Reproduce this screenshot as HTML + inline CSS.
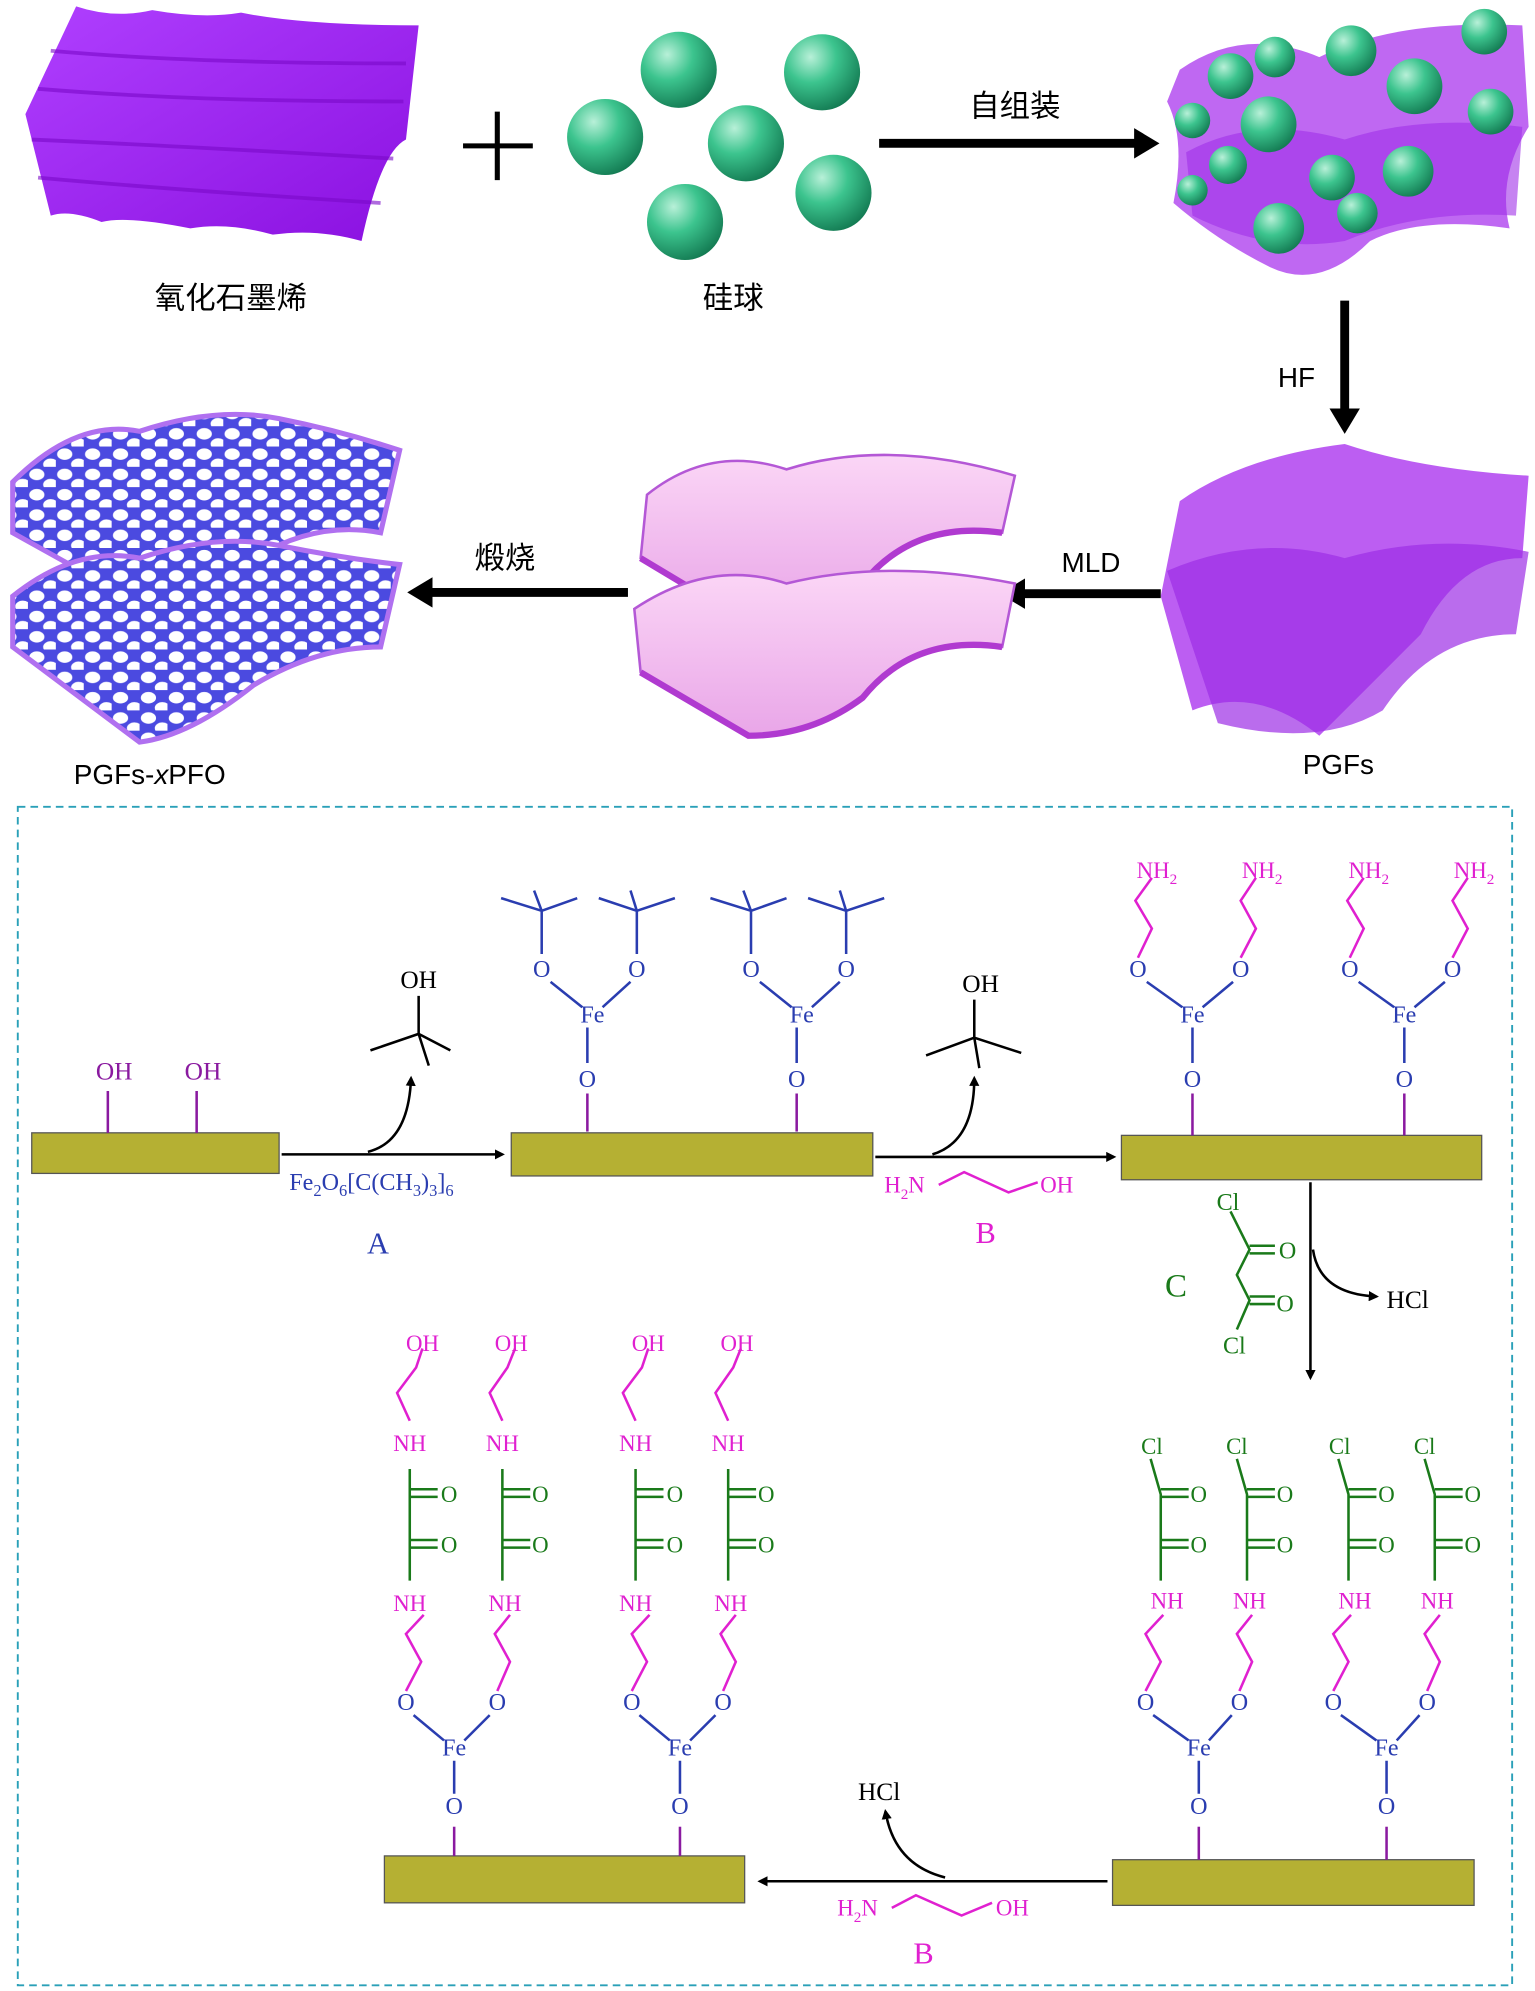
<!DOCTYPE html>
<html><head><meta charset="utf-8">
<style>
html,body{margin:0;padding:0;background:#fff;}
svg{display:block;}
.cn{font-family:"Liberation Sans","Noto Sans CJK SC",sans-serif;}
.s{font-family:"Liberation Serif","Noto Serif CJK SC",serif;}
</style></head><body>
<svg width="1535" height="1991" viewBox="0 0 1210 1569.5" xmlns="http://www.w3.org/2000/svg">
<defs>
<radialGradient id="sph" cx="0.35" cy="0.3" r="0.75">
<stop offset="0" stop-color="#b8f0d8"/><stop offset="0.45" stop-color="#3cc48e"/><stop offset="1" stop-color="#137a52"/></radialGradient>
<linearGradient id="go" x1="0" y1="0" x2="1" y2="1"><stop offset="0" stop-color="#b040ff"/><stop offset="1" stop-color="#8a10e0"/></linearGradient>
<linearGradient id="pk" x1="0" y1="0" x2="0" y2="1"><stop offset="0" stop-color="#fbd6f6"/><stop offset="1" stop-color="#e9a6e8"/></linearGradient>
<pattern id="dots" width="22" height="16" patternUnits="userSpaceOnUse"><rect width="22" height="16" fill="#4b4ae0"/><ellipse cx="7" cy="6" rx="6" ry="4.5" fill="#fff"/><ellipse cx="18" cy="14" rx="6" ry="4.5" fill="#fff"/></pattern>
<marker id="ah" markerWidth="8" markerHeight="8" refX="6" refY="4" orient="auto" markerUnits="userSpaceOnUse"><path d="M0,0 L8,4 L0,8 Z" fill="#000"/></marker>
<marker id="ahb" markerWidth="22" markerHeight="24" refX="8" refY="12" orient="auto" markerUnits="userSpaceOnUse"><path d="M0,0 L20,12 L0,24 Z" fill="#000"/></marker>
</defs>

<!-- GO sheet -->
<path d="M60,5 Q90,15 120,8 Q160,15 190,10 Q240,20 330,20 L320,110 Q300,120 285,190 Q250,180 215,185 Q180,175 150,180 Q100,170 80,175 Q55,165 40,170 L20,90 Z" fill="url(#go)"/>
<path d="M40,40 Q150,50 320,50 M30,70 Q150,80 318,80 M25,110 Q140,115 310,125 M30,140 Q140,150 300,160" stroke="#7a08c8" stroke-width="3" fill="none" opacity="0.6"/>
<text x="182" y="243" class="cn" font-size="24" text-anchor="middle">氧化石墨烯</text>
<path d="M365,115 H420 M392,88 V142" stroke="#000" stroke-width="4"/>
<circle cx="535" cy="55" r="30" fill="url(#sph)"/><circle cx="648" cy="57" r="30" fill="url(#sph)"/>
<circle cx="477" cy="108" r="30" fill="url(#sph)"/><circle cx="588" cy="113" r="30" fill="url(#sph)"/>
<circle cx="657" cy="152" r="30" fill="url(#sph)"/><circle cx="540" cy="175" r="30" fill="url(#sph)"/>
<text x="578" y="243" class="cn" font-size="24" text-anchor="middle">硅球</text>
<line x1="693" y1="113" x2="902" y2="113" stroke="#000" stroke-width="7" marker-end="url(#ahb)"/>
<text x="800" y="92" class="cn" font-size="24" text-anchor="middle">自组装</text>
<!-- composite -->
<path d="M930,55 Q980,20 1040,45 Q1100,15 1200,20 L1205,100 Q1180,140 1190,180 Q1120,170 1080,190 Q1040,230 1000,210 Q960,190 925,160 Q935,110 920,80 Z" fill="#b44df0" opacity="0.85"/>
<path d="M935,120 Q990,90 1060,110 Q1120,90 1200,100 L1195,170 Q1120,165 1060,190 Q1000,200 940,170 Z" fill="#a030e8" opacity="0.6"/>
<g>
<circle cx="970" cy="60" r="18" fill="url(#sph)"/><circle cx="1005" cy="45" r="16" fill="url(#sph)"/><circle cx="1065" cy="40" r="20" fill="url(#sph)"/><circle cx="1170" cy="25" r="18" fill="url(#sph)"/><circle cx="1115" cy="68" r="22" fill="url(#sph)"/><circle cx="1000" cy="98" r="22" fill="url(#sph)"/><circle cx="1175" cy="88" r="18" fill="url(#sph)"/><circle cx="940" cy="95" r="14" fill="url(#sph)"/><circle cx="968" cy="130" r="15" fill="url(#sph)"/><circle cx="1050" cy="140" r="18" fill="url(#sph)"/><circle cx="1110" cy="135" r="20" fill="url(#sph)"/><circle cx="1008" cy="180" r="20" fill="url(#sph)"/><circle cx="1070" cy="168" r="16" fill="url(#sph)"/><circle cx="940" cy="150" r="12" fill="url(#sph)"/>
</g>
<line x1="1060" y1="237" x2="1060" y2="330" stroke="#000" stroke-width="7" marker-end="url(#ahb)"/>
<text x="1022" y="305" class="cn" font-size="22" text-anchor="middle">HF</text>
<!-- PGFs -->
<path d="M930,395 Q980,360 1060,350 Q1120,370 1205,375 L1200,440 Q1150,440 1120,500 Q1080,540 1040,580 Q990,540 940,560 L915,470 Z" fill="#b042f0" opacity="0.85"/>
<path d="M920,450 Q990,420 1060,440 Q1130,420 1205,435 L1195,500 Q1130,500 1090,560 Q1040,590 960,570 Z" fill="#9c2ee6" opacity="0.7"/>
<text x="1055" y="610" class="cn" font-size="22" text-anchor="middle">PGFs</text>
<line x1="915" y1="468" x2="800" y2="468" stroke="#000" stroke-width="7" marker-end="url(#ahb)"/>
<text x="860" y="451" class="cn" font-size="22" text-anchor="middle">MLD</text>
<!-- pink sheets -->
<path d="M510,390 Q560,350 620,370 Q700,345 800,375 L790,420 Q720,410 680,460 Q640,480 580,485 L505,440 Z" fill="url(#pk)" stroke="#b458d6" stroke-width="2"/>
<path d="M505,440 L580,485 Q640,480 680,460 Q720,410 790,420" stroke="#b03ad0" stroke-width="5" fill="none"/>
<path d="M500,480 Q560,440 620,460 Q700,440 800,460 L790,510 Q720,500 680,550 Q640,580 590,580 L505,530 Z" fill="url(#pk)" stroke="#b458d6" stroke-width="2"/>
<path d="M505,530 L590,580 Q640,580 680,550 Q720,500 790,510" stroke="#b03ad0" stroke-width="5" fill="none"/>
<line x1="495" y1="467" x2="333" y2="467" stroke="#000" stroke-width="7" marker-end="url(#ahb)"/>
<text x="398" y="448" class="cn" font-size="24" text-anchor="middle">煅烧</text>
<!-- dotted sheets -->
<path d="M10,380 Q60,330 110,340 Q170,320 220,330 Q270,340 315,355 L300,420 Q250,410 200,440 Q150,470 100,470 L10,420 Z" fill="url(#dots)" stroke="#b070f0" stroke-width="4"/>
<path d="M10,470 Q60,430 110,440 Q170,420 220,430 Q270,440 315,445 L300,510 Q250,510 200,540 Q150,580 110,585 L10,510 Z" fill="url(#dots)" stroke="#b070f0" stroke-width="4"/>
<text x="118" y="618" class="cn" font-size="22" text-anchor="middle">PGFs-<tspan font-style="italic">x</tspan>PFO</text>

<!-- dashed box -->
<rect x="14" y="636" width="1178" height="929" fill="none" stroke="#2aa0b8" stroke-width="1.5" stroke-dasharray="6,4"/>

<!-- bars -->
<g fill="#b5b033" stroke="#555" stroke-width="1">
<rect x="25" y="893" width="195" height="32"/>
<rect x="403" y="893" width="285" height="34"/>
<rect x="884" y="895" width="284" height="35"/>
<rect x="877" y="1466" width="285" height="36"/>
<rect x="303" y="1463" width="284" height="37"/>
</g>

<!-- bar1 OH -->
<g class="s" font-size="20" fill="#8a1aa0" text-anchor="middle">
<text x="90" y="851">OH</text><text x="160" y="851">OH</text></g>
<path d="M85,860 V893 M155,860 V893" stroke="#8a1aa0" stroke-width="2"/>

<!-- arrow A -->
<line x1="222" y1="910" x2="396" y2="910" stroke="#000" stroke-width="2" marker-end="url(#ah)"/>
<path d="M290,908 Q322,900 324,850" stroke="#000" stroke-width="2" fill="none" marker-end="url(#ah)"/>
<text x="330" y="779" class="s" font-size="20" text-anchor="middle">OH</text>
<path d="M330,785 V815 M330,815 L292,828 M330,815 L355,828 M330,815 L338,840" stroke="#000" stroke-width="2"/>
<text x="228" y="938" class="s" font-size="19" fill="#2a3db0">Fe<tspan font-size="13" dy="5">2</tspan><tspan dy="-5">O</tspan><tspan font-size="13" dy="5">6</tspan><tspan dy="-5">[C(CH</tspan><tspan font-size="13" dy="5">3</tspan><tspan dy="-5">)</tspan><tspan font-size="13" dy="5">3</tspan><tspan dy="-5">]</tspan><tspan font-size="13" dy="5">6</tspan></text>
<text x="298" y="988" class="s" font-size="24" fill="#2a3db0" text-anchor="middle">A</text>

<!-- Fe tBu units on bar2 -->
<g transform="translate(467,800)">
<path d="M-4,62 V92" stroke="#8a1aa0" stroke-width="2"/>
<path d="M-4,10 V38 M-8,-6 L-33,-26 M8,-6 L30,-26" stroke="#2a3db0" stroke-width="2"/>
<g stroke="#2a3db0" stroke-width="2">
<path d="M-40,-48 V-82 M-40,-82 L-72,-92 M-40,-82 L-12,-92 M-40,-82 L-46,-98"/>
<path d="M35,-48 V-82 M35,-82 L5,-92 M35,-82 L65,-92 M35,-82 L30,-98"/>
</g>
<g class="s" font-size="19" fill="#2a3db0" text-anchor="middle">
<text x="0" y="6">Fe</text><text x="-4" y="57">O</text><text x="-40" y="-30">O</text><text x="35" y="-30">O</text></g>
</g>
<g transform="translate(632,800)">
<path d="M-4,62 V92" stroke="#8a1aa0" stroke-width="2"/>
<path d="M-4,10 V38 M-8,-6 L-33,-26 M8,-6 L30,-26" stroke="#2a3db0" stroke-width="2"/>
<g stroke="#2a3db0" stroke-width="2">
<path d="M-40,-48 V-82 M-40,-82 L-72,-92 M-40,-82 L-12,-92 M-40,-82 L-46,-98"/>
<path d="M35,-48 V-82 M35,-82 L5,-92 M35,-82 L65,-92 M35,-82 L30,-98"/>
</g>
<g class="s" font-size="19" fill="#2a3db0" text-anchor="middle">
<text x="0" y="6">Fe</text><text x="-4" y="57">O</text><text x="-40" y="-30">O</text><text x="35" y="-30">O</text></g>
</g>

<!-- arrow B -->
<line x1="690" y1="912" x2="878" y2="912" stroke="#000" stroke-width="2" marker-end="url(#ah)"/>
<path d="M735,910 Q768,900 768,850" stroke="#000" stroke-width="2" fill="none" marker-end="url(#ah)"/>
<text x="773" y="782" class="s" font-size="20" text-anchor="middle">OH</text>
<path d="M768,788 V818 M768,818 L730,832 M768,818 L805,830 M768,818 L772,842" stroke="#000" stroke-width="2"/>
<text x="697" y="940" class="s" font-size="18" fill="#e020d0">H<tspan font-size="12" dy="5">2</tspan><tspan dy="-5">N</tspan></text>
<path d="M740,934 L760,924 L795,940 L818,932" stroke="#e020d0" stroke-width="2" fill="none"/>
<text x="820" y="940" class="s" font-size="18" fill="#e020d0">OH</text>
<text x="777" y="980" class="s" font-size="24" fill="#e020d0" text-anchor="middle">B</text>

<!-- bar3 units with NH2 -->
<g transform="translate(940,800)">
<path d="M0,62 V95" stroke="#8a1aa0" stroke-width="2"/>
<path d="M0,10 V38 M-8,-6 L-36,-26 M8,-6 L32,-26" stroke="#2a3db0" stroke-width="2"/>
<path d="M-43,-45 L-32,-68 L-45,-90 L-32,-108 M38,-45 L50,-68 L38,-90 L50,-108" stroke="#e020d0" stroke-width="2" fill="none"/>
<g class="s" font-size="19" fill="#2a3db0" text-anchor="middle"><text x="0" y="6">Fe</text><text x="0" y="57">O</text><text x="-43" y="-30">O</text><text x="38" y="-30">O</text></g>
<g class="s" font-size="18" fill="#e020d0" text-anchor="middle"><text x="-28" y="-108">NH<tspan font-size="12" dy="5">2</tspan></text><text x="55" y="-108">NH<tspan font-size="12" dy="5">2</tspan></text></g>
</g>
<g transform="translate(1107,800)">
<path d="M0,62 V95" stroke="#8a1aa0" stroke-width="2"/>
<path d="M0,10 V38 M-8,-6 L-36,-26 M8,-6 L32,-26" stroke="#2a3db0" stroke-width="2"/>
<path d="M-43,-45 L-32,-68 L-45,-90 L-32,-108 M38,-45 L50,-68 L38,-90 L50,-108" stroke="#e020d0" stroke-width="2" fill="none"/>
<g class="s" font-size="19" fill="#2a3db0" text-anchor="middle"><text x="0" y="6">Fe</text><text x="0" y="57">O</text><text x="-43" y="-30">O</text><text x="38" y="-30">O</text></g>
<g class="s" font-size="18" fill="#e020d0" text-anchor="middle"><text x="-28" y="-108">NH<tspan font-size="12" dy="5">2</tspan></text><text x="55" y="-108">NH<tspan font-size="12" dy="5">2</tspan></text></g>
</g>

<!-- arrow C down -->
<line x1="1033" y1="932" x2="1033" y2="1086" stroke="#000" stroke-width="2" marker-end="url(#ah)"/>
<path d="M1035,985 Q1040,1020 1085,1022" stroke="#000" stroke-width="2" fill="none" marker-end="url(#ah)"/>
<text x="1093" y="1031" class="s" font-size="20">HCl</text>
<text x="927" y="1022" class="s" font-size="26" fill="#1a7a1a" text-anchor="middle">C</text>
<g stroke="#1a7a1a" stroke-width="2" fill="none">
<path d="M970,955 L985,985 L975,1005 L985,1025 L975,1048"/>
<path d="M985,982 H1005 M985,988 H1005 M985,1022 H1005 M985,1028 H1005"/>
</g>
<g class="s" font-size="19" fill="#1a7a1a" text-anchor="middle"><text x="968" y="954">Cl</text><text x="1015" y="992">O</text><text x="1013" y="1034">O</text><text x="973" y="1067">Cl</text></g>

<!-- bottom right units (Cl terminal) -->
<g transform="translate(945,1378)">
<path d="M0,62 V88" stroke="#8a1aa0" stroke-width="2"/>
<path d="M0,10 V36 M-8,-6 L-36,-26 M8,-6 L26,-26" stroke="#2a3db0" stroke-width="2"/>
<path d="M-42,-45 L-30,-68 L-42,-90 L-28,-105 M32,-45 L42,-68 L30,-90 L42,-105" stroke="#e020d0" stroke-width="2" fill="none"/>
<path d="M-30,-132 V-200 L-38,-228 M-30,-158 H-8 M-30,-164 H-8 M-30,-198 H-8 M-30,-204 H-8 M38,-132 V-200 L30,-228 M38,-158 H60 M38,-164 H60 M38,-198 H60 M38,-204 H60" stroke="#1a7a1a" stroke-width="2" fill="none"/>
<g class="s" font-size="19" fill="#2a3db0" text-anchor="middle"><text x="0" y="6">Fe</text><text x="0" y="52">O</text><text x="-42" y="-30">O</text><text x="32" y="-30">O</text></g>
<g class="s" font-size="18" fill="#e020d0" text-anchor="middle"><text x="-25" y="-110">NH</text><text x="40" y="-110">NH</text></g>
<g class="s" font-size="18" fill="#1a7a1a" text-anchor="middle"><text x="0" y="-154">O</text><text x="0" y="-194">O</text><text x="68" y="-154">O</text><text x="68" y="-194">O</text><text x="-37" y="-232">Cl</text><text x="30" y="-232">Cl</text></g>
</g>
<g transform="translate(1093,1378)">
<path d="M0,62 V88" stroke="#8a1aa0" stroke-width="2"/>
<path d="M0,10 V36 M-8,-6 L-36,-26 M8,-6 L26,-26" stroke="#2a3db0" stroke-width="2"/>
<path d="M-42,-45 L-30,-68 L-42,-90 L-28,-105 M32,-45 L42,-68 L30,-90 L42,-105" stroke="#e020d0" stroke-width="2" fill="none"/>
<path d="M-30,-132 V-200 L-38,-228 M-30,-158 H-8 M-30,-164 H-8 M-30,-198 H-8 M-30,-204 H-8 M38,-132 V-200 L30,-228 M38,-158 H60 M38,-164 H60 M38,-198 H60 M38,-204 H60" stroke="#1a7a1a" stroke-width="2" fill="none"/>
<g class="s" font-size="19" fill="#2a3db0" text-anchor="middle"><text x="0" y="6">Fe</text><text x="0" y="52">O</text><text x="-42" y="-30">O</text><text x="32" y="-30">O</text></g>
<g class="s" font-size="18" fill="#e020d0" text-anchor="middle"><text x="-25" y="-110">NH</text><text x="40" y="-110">NH</text></g>
<g class="s" font-size="18" fill="#1a7a1a" text-anchor="middle"><text x="0" y="-154">O</text><text x="0" y="-194">O</text><text x="68" y="-154">O</text><text x="68" y="-194">O</text><text x="-37" y="-232">Cl</text><text x="30" y="-232">Cl</text></g>
</g>

<!-- bottom arrow B -->
<line x1="873" y1="1483" x2="599" y2="1483" stroke="#000" stroke-width="2" marker-end="url(#ah)"/>
<path d="M745,1480 Q705,1470 698,1428" stroke="#000" stroke-width="2" fill="none" marker-end="url(#ah)"/>
<text x="693" y="1419" class="s" font-size="20" text-anchor="middle">HCl</text>
<text x="660" y="1510" class="s" font-size="18" fill="#e020d0">H<tspan font-size="12" dy="5">2</tspan><tspan dy="-5">N</tspan></text>
<path d="M703,1504 L722,1494 L758,1510 L782,1500" stroke="#e020d0" stroke-width="2" fill="none"/>
<text x="785" y="1510" class="s" font-size="18" fill="#e020d0">OH</text>
<text x="728" y="1548" class="s" font-size="24" fill="#e020d0" text-anchor="middle">B</text>

<!-- bottom left units (OH terminal) -->
<g transform="translate(358,1378)">
<path d="M0,62 V85" stroke="#8a1aa0" stroke-width="2"/>
<path d="M0,10 V36 M-8,-6 L-32,-26 M8,-6 L28,-26" stroke="#2a3db0" stroke-width="2"/>
<path d="M-38,-45 L-26,-68 L-38,-90 L-24,-105 M34,-45 L44,-68 L32,-90 L44,-105" stroke="#e020d0" stroke-width="2" fill="none"/>
<path d="M-35,-132 V-220 M-35,-158 H-13 M-35,-164 H-13 M-35,-198 H-13 M-35,-204 H-13 M38,-132 V-220 M38,-158 H60 M38,-164 H60 M38,-198 H60 M38,-204 H60" stroke="#1a7a1a" stroke-width="2" fill="none"/>
<path d="M-35,-258 L-45,-280 L-30,-300 L-25,-315 M38,-258 L28,-280 L42,-300 L48,-315" stroke="#e020d0" stroke-width="2" fill="none"/>
<g class="s" font-size="19" fill="#2a3db0" text-anchor="middle"><text x="0" y="6">Fe</text><text x="0" y="52">O</text><text x="-38" y="-30">O</text><text x="34" y="-30">O</text></g>
<g class="s" font-size="18" fill="#e020d0" text-anchor="middle"><text x="-35" y="-108">NH</text><text x="40" y="-108">NH</text><text x="-35" y="-234">NH</text><text x="38" y="-234">NH</text><text x="-25" y="-313">OH</text><text x="45" y="-313">OH</text></g>
<g class="s" font-size="18" fill="#1a7a1a" text-anchor="middle"><text x="-4" y="-154">O</text><text x="-4" y="-194">O</text><text x="68" y="-154">O</text><text x="68" y="-194">O</text></g>
</g>
<g transform="translate(536,1378)">
<path d="M0,62 V85" stroke="#8a1aa0" stroke-width="2"/>
<path d="M0,10 V36 M-8,-6 L-32,-26 M8,-6 L28,-26" stroke="#2a3db0" stroke-width="2"/>
<path d="M-38,-45 L-26,-68 L-38,-90 L-24,-105 M34,-45 L44,-68 L32,-90 L44,-105" stroke="#e020d0" stroke-width="2" fill="none"/>
<path d="M-35,-132 V-220 M-35,-158 H-13 M-35,-164 H-13 M-35,-198 H-13 M-35,-204 H-13 M38,-132 V-220 M38,-158 H60 M38,-164 H60 M38,-198 H60 M38,-204 H60" stroke="#1a7a1a" stroke-width="2" fill="none"/>
<path d="M-35,-258 L-45,-280 L-30,-300 L-25,-315 M38,-258 L28,-280 L42,-300 L48,-315" stroke="#e020d0" stroke-width="2" fill="none"/>
<g class="s" font-size="19" fill="#2a3db0" text-anchor="middle"><text x="0" y="6">Fe</text><text x="0" y="52">O</text><text x="-38" y="-30">O</text><text x="34" y="-30">O</text></g>
<g class="s" font-size="18" fill="#e020d0" text-anchor="middle"><text x="-35" y="-108">NH</text><text x="40" y="-108">NH</text><text x="-35" y="-234">NH</text><text x="38" y="-234">NH</text><text x="-25" y="-313">OH</text><text x="45" y="-313">OH</text></g>
<g class="s" font-size="18" fill="#1a7a1a" text-anchor="middle"><text x="-4" y="-154">O</text><text x="-4" y="-194">O</text><text x="68" y="-154">O</text><text x="68" y="-194">O</text></g>
</g>
</svg>
</body></html>
